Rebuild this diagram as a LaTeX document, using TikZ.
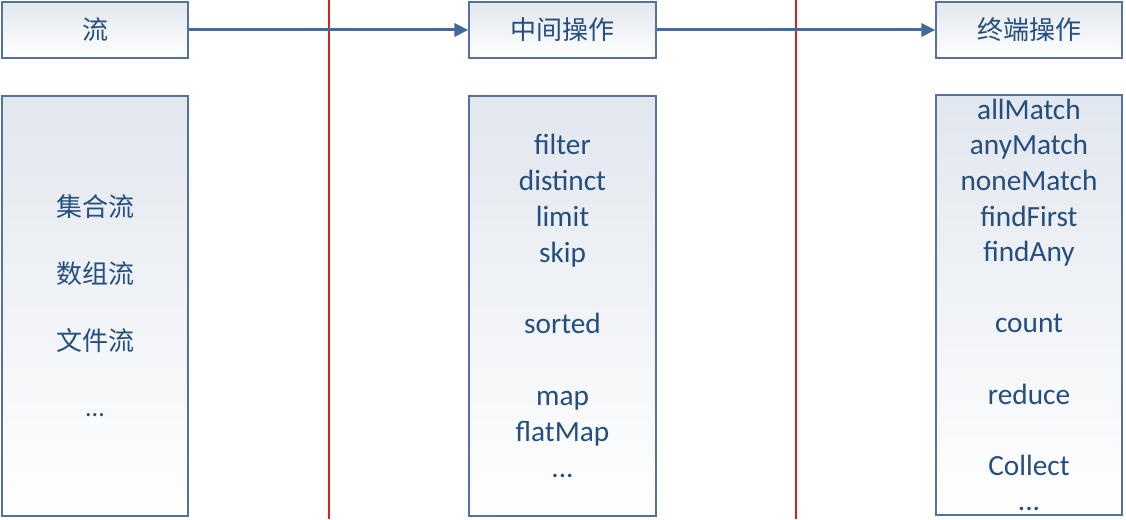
\documentclass[tikz,border=0pt]{standalone}
\usepackage{fontspec}
\setmainfont{Carlito}
\newfontfamily\cjk{Noto Sans CJK SC}
\usetikzlibrary{arrows.meta,positioning}

\definecolor{txtblue}{RGB}{36,78,126}
\definecolor{edgeblue}{RGB}{84,114,160}
\definecolor{arrowblue}{RGB}{66,106,154}
\definecolor{boxgray}{RGB}{226,231,238}
\definecolor{sepred}{RGB}{214,32,38}

\begin{document}
\begin{tikzpicture}[x=1pt,y=1pt,
  headbox/.style={draw=edgeblue, line width=1.2pt, top color=boxgray, bottom color=white,
    minimum width=186pt, minimum height=56pt, inner sep=0pt, text=txtblue,
    font=\cjk\fontsize{26}{30}\selectfont},
  listbox/.style={draw=edgeblue, line width=1.2pt, top color=boxgray, bottom color=white,
    minimum width=186pt, minimum height=420pt, inner sep=0pt, align=center, text=txtblue},
  flowarrow/.style={draw=arrowblue, line width=3pt, -{Triangle[length=14pt,width=13pt]}},
  sepline/.style={draw=sepred, line width=1.6pt}]

  \useasboundingbox (0,0) rectangle (1126,519);

  %% separators
  \draw[sepline] (329,0) -- (329,519);
  \draw[sepline] (796,0) -- (796,519);

  %% heads
  \node[headbox] (flow) at (95,489) {流};
  \node[headbox, minimum width=187pt] (mid) at (562.5,489) {中间操作};
  \node[headbox] (term) at (1029,489) {终端操作};

  \draw[flowarrow] (flow.east) -- (mid.west);
  \draw[flowarrow] (mid.east) -- (term.west);

  %% lists
  \node[listbox, font=\cjk\fontsize{26}{33.3}\selectfont] (flowlist) at (95,213)
    {集合流\\[33.3pt]数组流\\[33.3pt]文件流\\[33.3pt]{\rmfamily ...}};

  \node[listbox, font=\fontsize{29.3}{35.8}\selectfont, minimum width=187pt] (midlist) at (562.5,213)
    {filter\\distinct\\limit\\skip\\[35.8pt]sorted\\[35.8pt]map\\flatMap\\...};

  \node[listbox, font=\fontsize{29.3}{35.6}\selectfont] (termlist) at (1029,214)
    {allMatch\\anyMatch\\noneMatch\\findFirst\\findAny\\[35.6pt]count\\[35.6pt]reduce\\[35.6pt]Collect\\...};

\end{tikzpicture}
\end{document}
